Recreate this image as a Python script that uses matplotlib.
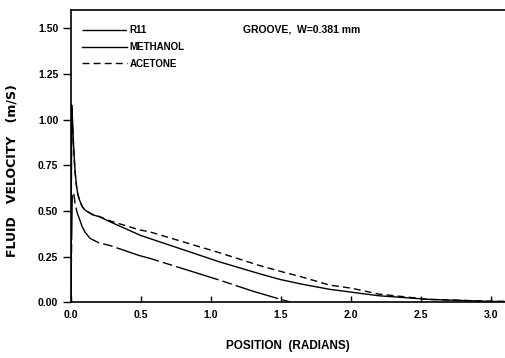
import matplotlib
matplotlib.use("Agg")
import matplotlib.pyplot as plt

# values
r11_x = [0.0, 0.01, 0.02, 0.03, 0.045, 0.064, 0.08, 0.1, 0.136, 0.2, 0.28, 0.49, 0.564, 1.064, 1.3, 1.5, 1.57]
r11_y = [0.0, 0.58, 0.60, 0.54, 0.49, 0.45, 0.415, 0.385, 0.35, 0.325, 0.31, 0.255, 0.24, 0.12, 0.06, 0.015, 0.0]

meth_x = [0.0, 0.006, 0.012, 0.02, 0.03, 0.04, 0.05, 0.064, 0.08, 0.1, 0.15, 0.207, 0.28, 0.5, 1.064, 1.35, 1.49, 1.64, 1.85, 2.0, 2.2, 2.56, 3.0, 3.1]
meth_y = [0.0, 1.08, 1.0, 0.85, 0.72, 0.64, 0.59, 0.555, 0.525, 0.505, 0.48, 0.467, 0.44, 0.365, 0.22, 0.155, 0.125, 0.10, 0.07, 0.055, 0.035, 0.015, 0.004, 0.003]

acet_x = [0.0, 0.006, 0.012, 0.02, 0.03, 0.04, 0.05, 0.064, 0.08, 0.1, 0.15, 0.207, 0.28, 0.49, 0.564, 1.064, 1.35, 1.49, 1.64, 1.85, 2.0, 2.2, 2.56, 3.0, 3.1]
acet_y = [0.0, 1.06, 0.98, 0.84, 0.71, 0.635, 0.59, 0.555, 0.525, 0.505, 0.482, 0.468, 0.445, 0.396, 0.385, 0.27, 0.20, 0.17, 0.14, 0.093, 0.077, 0.044, 0.015, 0.005, 0.004]

xticks = [0.0, 0.5, 1.0, 1.5, 2.0, 2.5, 3.0]
yticks = [0.0, 0.25, 0.5, 0.75, 1.0, 1.25, 1.5]

plt.rcParams["font.family"] = "Liberation Sans"
plt.rcParams["font.weight"] = "bold"

fig = plt.figure(figsize=(5.06, 3.58), dpi=100)
ax = fig.add_axes([0.140, 0.156, 0.858, 0.816])

ax.plot(r11_x, r11_y, color="black", lw=1.0, dashes=(32, 3, 7, 3), label="R11")
ax.plot(meth_x, meth_y, color="black", lw=1.0, label="METHANOL")
ax.plot(acet_x, acet_y, color="black", lw=1.0, dashes=(5, 3), label="ACETONE")

ax.set_xlim(0, 3.1)
ax.set_ylim(0, 1.6)
ax.set_xticks(xticks)
ax.set_xticklabels(["%.1f" % v for v in xticks])
ax.set_yticks(yticks)
ax.set_yticklabels(["%.2f" % v for v in yticks])
ax.tick_params(axis="x", direction="in", length=4, width=1, labelsize=7.5, pad=6)
ax.tick_params(axis="y", direction="out", length=6, width=1, labelsize=7.5, pad=3)
for lab in ax.get_xticklabels() + ax.get_yticklabels():
    lab.set_fontweight("bold")

ax.spines["right"].set_visible(False)
for s in ["left", "bottom", "top"]:
    ax.spines[s].set_linewidth(1.2)

ax.set_xlabel("POSITION  (RADIANS)", fontsize=8.5, fontweight="bold", labelpad=14)
ax.set_ylabel("FLUID   VELOCITY   (m/S)", fontsize=9, fontweight="bold",
              family="DejaVu Sans")
ax.yaxis.set_label_coords(-0.12, 0.45)

ax.text(0.396, 0.935, "GROOVE,  W=0.381 mm", transform=ax.transAxes,
        fontsize=7.5, fontweight="bold", va="center", ha="left")

leg = ax.legend(loc="upper left", bbox_to_anchor=(0.025, 0.948), frameon=False,
                fontsize=7, handlelength=4.7, handletextpad=0.2,
                borderpad=0, borderaxespad=0, labelspacing=0.7)

fig.savefig("out.png", dpi=100)
